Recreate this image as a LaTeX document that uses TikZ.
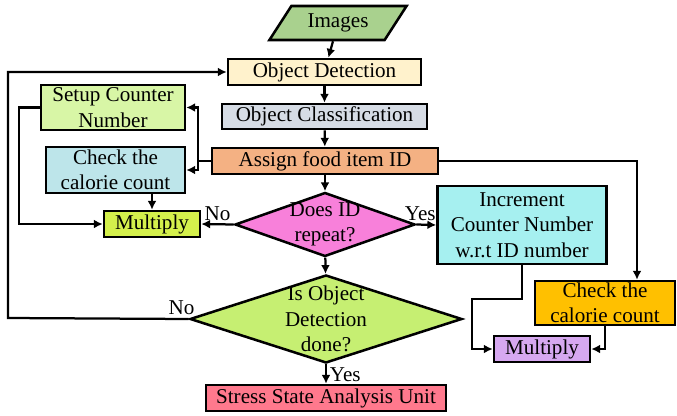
\documentclass[tikz,border=0pt]{standalone}
\usepackage{fontspec}
\setmainfont{Liberation Serif}
\usetikzlibrary{arrows.meta, positioning, shapes.geometric, calc}

\definecolor{imggreen}{HTML}{A9D18E}
\definecolor{detyellow}{HTML}{FFF2CC}
\definecolor{clsgrey}{HTML}{D6DCE5}
\definecolor{idorange}{HTML}{F4B183}
\definecolor{setgreen}{HTML}{D8F6A6}
\definecolor{calblue}{HTML}{BDE5EA}
\definecolor{mullime}{HTML}{D4F04C}
\definecolor{reppink}{HTML}{F880DA}
\definecolor{inccyan}{HTML}{A6F0F0}
\definecolor{donegreen}{HTML}{C6EF72}
\definecolor{stressred}{HTML}{FF798D}
\definecolor{calamber}{HTML}{FFC000}
\definecolor{mulviolet}{HTML}{D6A8F0}

\tikzset{
  block/.style={draw, line width=1.8pt, inner sep=0pt, align=center,
    font=\fontsize{15}{18}\selectfont},
  decision/.style={block, diamond, inner sep=-4pt},
  flow/.style={line width=1.6pt, -{Latex[length=2.2mm,width=2.2mm]}},
  wire/.style={line width=1.6pt},
  tag/.style={font=\fontsize{15}{18}\selectfont, inner sep=2pt},
}

\begin{document}
\begin{tikzpicture}[x=0.025cm, y=-0.025cm]
            \useasboundingbox (0,0) rectangle (677,415);

            % Main column
            \node[block, fill=imggreen, trapezium, trapezium left angle=52,
              trapezium right angle=128, trapezium stretches=true,
              minimum width=3.45cm, minimum height=0.85cm] (img) at (338,23) {Images};
            \node[block, fill=detyellow, minimum width=4.825cm, minimum height=0.65cm] (det) at (324.5,72) {Object Detection};
            \node[block, fill=clsgrey, minimum width=5.125cm, minimum height=0.625cm] (cls) at (324.5,116.5) {Object Classification};
            \node[block, fill=idorange, minimum width=5.65cm, minimum height=0.65cm] (assign) at (325,161) {Assign food item ID};
            \node[decision, fill=reppink, aspect=2.8, minimum width=4.5cm, minimum height=1.6cm] (repeat) at (325,224.5) {Does ID\\repeat?};
            \node[decision, fill=donegreen, aspect=3.1, minimum width=6.8cm, minimum height=2.2cm] (done) at (326,319) {Is Object\\Detection\\done?};
            \node[block, fill=stressred, minimum width=6cm, minimum height=0.65cm] (stress) at (326,398) {Stress State Analysis Unit};

            % Left branch
            \node[block, fill=setgreen, minimum width=3.6cm, minimum height=1.125cm] (setup) at (113,107.5) {Setup Counter\\Number};
            \node[block, fill=calblue, minimum width=3.475cm, minimum height=1.15cm] (calleft) at (115.5,170) {Check the\\calorie count};
            \node[block, fill=mullime, minimum width=2.4cm, minimum height=0.65cm] (mulleft) at (152,224) {Multiply};

            % Right branch
            \node[block, fill=inccyan, minimum width=4.225cm, minimum height=1.95cm] (incr) at (522,225) {Increment\\Counter Number\\w.r.t ID number};
            \node[block, fill=calamber, minimum width=3.5cm, minimum height=1.1cm] (calright) at (605,303) {Check the\\calorie count};
            \node[block, fill=mulviolet, minimum width=2.4cm, minimum height=0.65cm] (mulright) at (542,349) {Multiply};

            % Turning points
            \coordinate (split) at (198,161);
            \coordinate (setdown) at (19,224);
            \coordinate (loopback) at (8,318);
            \coordinate (incbend) at (472,299);

            % Main flow
            \draw[flow] (img) -- (det);
            \draw[flow] (det) -- (cls);
            \draw[flow] (cls) -- (assign);
            \draw[flow] (assign) -- (repeat);
            \draw[flow] (repeat) -- (done);
            \draw[flow] (done) -- node[tag, right, pos=0.55] {Yes} (stress);
            \draw[flow] (done.west) -- node[tag, above, pos=0.04] {No} (loopback) |- (det.west);

            % Left side
            \draw[wire] (assign.west) -- (split);
            \draw[flow] (split) |- (setup.east);
            \draw[flow] (split) |- (calleft.east);
            \draw[flow] (setup.west) -| (setdown) -- (mulleft.west);
            \draw[flow] (calleft.south -| mulleft.north) -- (mulleft.north);
            \draw[flow] (repeat.west) -- node[tag, above] {No} (mulleft.east);

            % Right side
            \draw[flow] (repeat.east) -- node[tag, above, pos=0.2] {Yes} (incr.west);
            \draw[flow] (assign.east) -| ($(calright.north)+(32,0)$);
            \draw[flow] (incr.south) |- (incbend) |- (mulright.west);
            \draw[flow] (calright.south) |- (mulright.east);
\end{tikzpicture}
\end{document}
